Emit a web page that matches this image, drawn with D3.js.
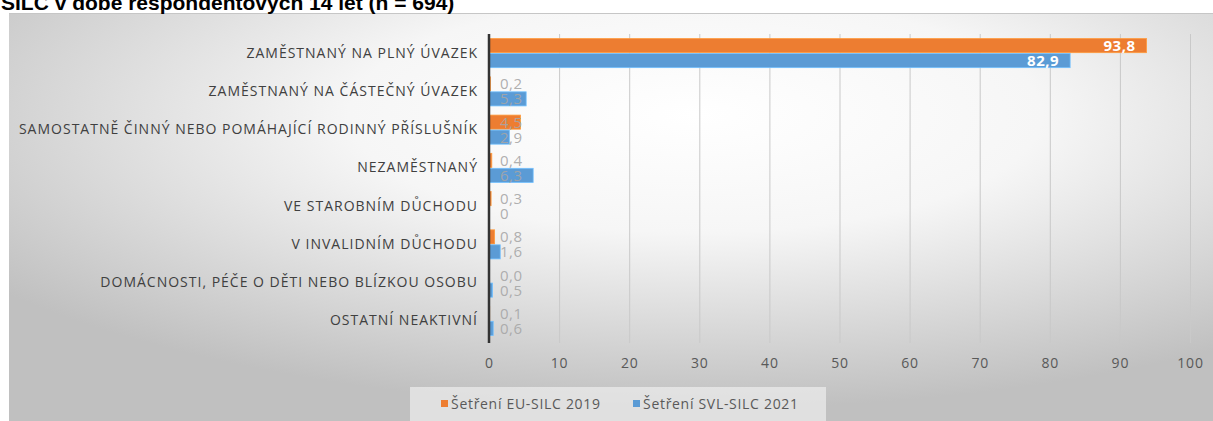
<!DOCTYPE html>
<html>
<head>
<meta charset="utf-8">
<script src="https://cdn.jsdelivr.net/npm/d3@7"></script>
<style>
  body { margin: 0; background: #fff; }
  svg { display: block; }
</style>
</head>
<body>
<svg id="chart"></svg>
<script>
var categories = [
  'ZAMĚSTNANÝ NA PLNÝ ÚVAZEK',
  'ZAMĚSTNANÝ NA ČÁSTEČNÝ ÚVAZEK',
  'SAMOSTATNĚ ČINNÝ NEBO POMÁHAJÍCÍ RODINNÝ PŘÍSLUŠNÍK',
  'NEZAMĚSTNANÝ',
  'VE STAROBNÍM DŮCHODU',
  'V INVALIDNÍM DŮCHODU',
  'DOMÁCNOSTI, PÉČE O DĚTI NEBO BLÍZKOU OSOBU',
  'OSTATNÍ NEAKTIVNÍ'
]
var eu2019 = [93.8, 0.2, 4.5, 0.4, 0.3, 0.8, 0.0, 0.1]
var svl2021 = [82.9, 5.3, 2.9, 6.3, 0, 1.6, 0.5, 0.6]
var eu2019Labels = ['93,8', '0,2', '4,5', '0,4', '0,3', '0,8', '0,0', '0,1']
var svl2021Labels = ['82,9', '5,3', '2,9', '6,3', '0', '1,6', '0,5', '0,6']
var seriesNames = ['Šetření EU-SILC 2019', 'Šetření SVL-SILC 2021']
var xTicks = [0, 10, 20, 30, 40, 50, 60, 70, 80, 90, 100]

var W = 1213, H = 421
var colors = ['#ED7D31', '#5B9BD5']
var font = 'Open Sans, Noto Sans, sans-serif'

var svg = d3.select('#chart').attr('width', W).attr('height', H)

// background gradient like the office chart area
var defs = svg.append('defs')
var grad = defs.append('radialGradient')
  .attr('id', 'bg')
  .attr('cx', '0.57').attr('cy', '0.25').attr('r', '0.72')
grad.append('stop').attr('offset', '0').attr('stop-color', '#ffffff')
grad.append('stop').attr('offset', '0.4').attr('stop-color', '#f6f6f6')
grad.append('stop').attr('offset', '1').attr('stop-color', '#c0c0c0')

svg.append('rect')
  .attr('x', 9).attr('y', 13)
  .attr('width', W - 9).attr('height', H - 13)
  .attr('fill', 'url(#bg)')
svg.append('line')
  .attr('x1', 9).attr('x2', W).attr('y1', 13.5).attr('y2', 13.5)
  .attr('stroke', '#c6c6c6')

// title, cut off at the top as in the screenshot
svg.append('text')
  .attr('x', 1).attr('y', 10)
  .attr('font-family', 'Liberation Sans, Arial, sans-serif')
  .attr('font-weight', 'bold')
  .attr('font-size', 21)
  .attr('fill', '#000')
  .text('SILC v době respondentových 14 let (n = 694)')

var x = d3.scaleLinear().domain([0, 100]).range([489, 1190])
var y = d3.scaleBand().domain(categories).range([34, 340]).paddingInner(0.24).paddingOuter(0.12)
var ySub = d3.scaleBand().domain([0, 1]).range([0, y.bandwidth()]).paddingInner(0.06)

// gridlines
svg.append('g')
  .selectAll('line')
  .data(xTicks.slice(1))
  .enter()
  .append('line')
  .attr('x1', (d) => x(d) + 0.5)
  .attr('x2', (d) => x(d) + 0.5)
  .attr('y1', 34)
  .attr('y2', 343)
  .attr('stroke', '#c9c9c9')
  .attr('stroke-width', 1)

// x axis labels
var xAxis = svg.append('g')
  .attr('transform', 'translate(0, 343)')
  .call(d3.axisBottom(x).tickValues(xTicks).tickSize(0).tickPadding(15).tickFormat(d3.format('d')))
xAxis.select('.domain').remove()
xAxis.selectAll('text')
  .attr('font-family', font)
  .attr('font-size', 14)
  .attr('letter-spacing', 0.8)
  .attr('fill', '#595959')

// category labels
var yAxis = svg.append('g')
  .attr('transform', 'translate(478, 0)')
  .call(d3.axisLeft(y).tickSize(0).tickPadding(0))
yAxis.select('.domain').remove()
yAxis.selectAll('text')
  .attr('font-family', font)
  .attr('font-size', 14)
  .attr('letter-spacing', 1)
  .attr('fill', '#404040')

var series = [eu2019, svl2021]
var labels = [eu2019Labels, svl2021Labels]

series.forEach((vals, s) => {
  var g = svg.append('g')
  g.selectAll('rect')
    .data(vals)
    .enter()
    .append('rect')
    .attr('x', x(0))
    .attr('y', (d, i) => y(categories[i]) + ySub(s))
    .attr('width', (d) => x(d) - x(0))
    .attr('height', ySub.bandwidth())
    .attr('fill', colors[s])
    .attr('stroke', d3.color(colors[s]).brighter(0.6))
    .attr('stroke-width', 0.8)

  g.selectAll('text')
    .data(vals)
    .enter()
    .append('text')
    .attr('x', (d) => d > 10 ? x(d) - 11 : x(0) + 11)
    .attr('y', (d, i) => y(categories[i]) + ySub(s) + ySub.bandwidth() / 2)
    .attr('dy', '0.36em')
    .attr('text-anchor', (d) => d > 10 ? 'end' : 'start')
    .attr('font-family', font)
    .attr('font-size', 15)
    .attr('letter-spacing', 0.5)
    .attr('font-weight', (d) => d > 10 ? 'bold' : 'normal')
    .attr('fill', (d) => d > 10 ? '#ffffff' : '#a6a6a6')
    .attr('fill-opacity', (d) => d > 10 ? 1 : 0.9)
    .text((d, i) => labels[s][i])
})

// zero line
svg.append('line')
  .attr('x1', x(0)).attr('x2', x(0))
  .attr('y1', 34).attr('y2', 343)
  .attr('stroke', '#333333')
  .attr('stroke-width', 2.5)

// legend
var legend = svg.append('g')
legend.append('rect')
  .attr('x', 410).attr('y', 387)
  .attr('width', 416).attr('height', 34)
  .attr('fill', '#f5f5f5')
  .attr('fill-opacity', 0.6)
var legendX = [441, 633]
seriesNames.forEach((name, s) => {
  legend.append('rect')
    .attr('x', legendX[s]).attr('y', 400)
    .attr('width', 7).attr('height', 7)
    .attr('fill', colors[s])
  legend.append('text')
    .attr('x', legendX[s] + 10).attr('y', 404)
    .attr('dy', '0.36em')
    .attr('font-family', font)
    .attr('font-size', 14)
    .attr('letter-spacing', 0.7)
    .attr('fill', '#595959')
    .text(name)
})
</script>
</body>
</html>
